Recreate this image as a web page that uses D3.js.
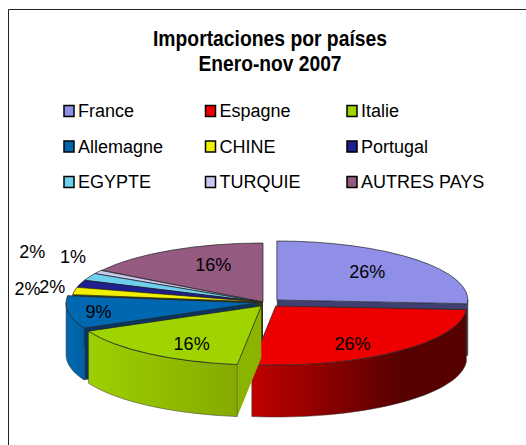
<!DOCTYPE html>
<html>
<head>
  <meta charset="utf-8">
  <style>
    html, body { margin: 0; padding: 0; background: #fff; }
    svg { display: block; }
    text { font-family: "Liberation Sans", Arial, sans-serif; fill: #000; }
    .title { font-size: 22px; font-weight: bold; text-anchor: middle; }
    .legend-label { font-size: 18px; }
    .pct { font-size: 18px; text-anchor: middle; }
  </style>
  <script src="https://d3js.org/d3.v7.min.js"></script>
</head>
<body>
<div id="chartContainer"></div>
<script>
  var titleLines = ["Importaciones por países", "Enero-nov 2007"];
  var titleWidths = [234, 143];
  var categories = ["France", "Espagne", "Italie", "Allemagne", "CHINE", "Portugal", "EGYPTE", "TURQUIE", "AUTRES PAYS"];
  var values = [26, 26, 16, 9, 2, 2, 2, 1, 16];
  var colors = ["#8f8fe8", "#ee0000", "#a0d400", "#0068b0", "#f0f000", "#1f1f8f", "#6fcfef", "#c8c8f0", "#945a80"];

  // side wall shades, left to right
  var sideFrom = ["#3f3f70", "#c00000", "#9dd000", "#0068b0", "#8a8a00", "#14145c", "#3f7f96", "#7c7c96", "#5c3850"];
  var sideTo = ["#3f3f70", "#560000", "#84aa00", "#0060a4", "#8a8a00", "#14145c", "#3f7f96", "#7c7c96", "#5c3850"];
  var faceColors = ["#3f3f70", "#560000", "#8ab400", "#0a3560", "#3a3a10", "#10103c", "#20303c", "#30303c", "#3a2a36"];

  // slice explosion in px (sideways along the slice, then straight down)
  var explode = [19, 20, 3, 6, 1, 1, 1, 1, 0];
  var dropY = [-2, 4, 4, 1, 0, 0, 0, 0, 0];
  // label placement as multiples of the ellipse radii
  var labelFx = [0.65, 0.63, 0.62, 0.84, 1.25, 1.155, 1.33, 1.15, 0.54];
  var labelFy = [0.70, 0.84, 0.79, 1.00, 1.16, 0.82, 1.98, 1.50, 0.72];

  var width = 526, height = 445;
  var cx = 263, cy = 302, rx = 191, ry = 59, depth = 52;

  var svg = d3.select("#chartContainer").append("svg")
    .attr("width", width)
    .attr("height", height);

  // frame
  svg.append("path")
    .attr("d", "M8.5," + height + "V9.5H" + width)
    .attr("fill", "none")
    .attr("stroke", "#222")
    .attr("stroke-width", 1);

  svg.selectAll(".title")
    .data(titleLines)
    .enter().append("text")
    .attr("class", "title")
    .attr("x", 270)
    .attr("y", function (d, i) { return 46 + i * 25; })
    .attr("textLength", function (d, i) { return titleWidths[i]; })
    .attr("lengthAdjust", "spacingAndGlyphs")
    .text(function (d) { return d; });

  // legend, three columns
  var legendX = d3.scaleLinear().domain([0, 2]).range([64, 347]);
  var legendY = d3.scaleLinear().domain([0, 2]).range([110.5, 181.5]);

  var legend = svg.selectAll(".legend")
    .data(categories)
    .enter().append("g")
    .attr("class", "legend")
    .attr("transform", function (d, i) {
      return "translate(" + legendX(i % 3) + "," + legendY(Math.floor(i / 3)) + ")";
    });

  legend.append("rect")
    .attr("x", 0).attr("y", -5)
    .attr("width", 10).attr("height", 11)
    .attr("fill", function (d, i) { return colors[i]; })
    .attr("stroke", "#000")
    .attr("stroke-width", 1.5);

  legend.append("text")
    .attr("class", "legend-label")
    .attr("x", 14)
    .attr("y", 6.5)
    .text(function (d) { return d; });

  // pie
  var pie = d3.pie().sort(null).value(function (d) { return d; });
  var slices = pie(values).map(function (s, i) {
    var mid = (s.startAngle + s.endAngle) / 2;
    s.index = i;
    s.mid = mid;
    s.ox = cx + explode[i] * Math.sin(mid);
    s.oy = cy + dropY[i];
    return s;
  });

  var defs = svg.append("defs");
  slices.forEach(function (s, i) {
    var g = defs.append("linearGradient").attr("id", "side" + i);
    g.append("stop").attr("offset", "0%").attr("stop-color", sideFrom[i]);
    g.append("stop").attr("offset", i === 1 ? "70%" : "100%").attr("stop-color", sideTo[i]);
    g.append("stop").attr("offset", "100%").attr("stop-color", sideTo[i]);
  });

  var arc = d3.arc().innerRadius(0).outerRadius(1);
  var edgeX = function (s, a) { return s.ox + rx * Math.sin(a); };
  var edgeY = function (s, a) { return s.oy - ry * Math.cos(a); };

  var wall = function (s) {
    var a0 = Math.max(s.startAngle, Math.PI / 2);
    var a1 = Math.min(s.endAngle, Math.PI * 1.5);
    if (a1 <= a0) return null;
    var area = d3.area()
      .x(function (a) { return edgeX(s, a); })
      .y0(function (a) { return edgeY(s, a); })
      .y1(function (a) { return edgeY(s, a) + depth; });
    var n = 40, steps = d3.range(n + 1).map(function (k) { return a0 + (a1 - a0) * k / n; });
    return area(steps);
  };

  var face = function (s, a) {
    var line = d3.line();
    return line([
      [s.ox, s.oy],
      [edgeX(s, a), edgeY(s, a)],
      [edgeX(s, a), edgeY(s, a) + depth],
      [s.ox, s.oy + depth]
    ]) + "Z";
  };

  // back slices first
  var order = slices.slice().sort(function (a, b) { return Math.cos(b.mid) - Math.cos(a.mid); });

  order.forEach(function (s) {
    var g = svg.append("g");
    var i = s.index;
    if (Math.cos(s.startAngle - Math.PI / 2) < 0) {
      g.append("path").attr("d", face(s, s.startAngle)).attr("fill", faceColors[i]);
    }
    if (Math.cos(s.endAngle + Math.PI / 2) < 0) {
      g.append("path").attr("d", face(s, s.endAngle)).attr("fill", faceColors[i]);
    }
    var w = wall(s);
    if (w) {
      g.append("path").attr("d", w)
        .attr("fill", "url(#side" + i + ")")
        .attr("stroke", "#333")
        .attr("stroke-width", 0.5);
    }
    g.append("path")
      .attr("d", arc(s))
      .attr("transform", "translate(" + s.ox + "," + s.oy + ") scale(" + rx + "," + ry + ")")
      .attr("fill", colors[i])
      .attr("stroke", "#222")
      .attr("stroke-width", 0.7)
      .attr("vector-effect", "non-scaling-stroke");
  });

  svg.selectAll(".pct")
    .data(slices)
    .enter().append("text")
    .attr("class", "pct")
    .attr("x", function (s) { return s.ox + labelFx[s.index] * rx * Math.sin(s.mid); })
    .attr("y", function (s) { return s.oy - labelFy[s.index] * ry * Math.cos(s.mid) + 6; })
    .text(function (s) { return s.value + "%"; });
</script>
</body>
</html>
